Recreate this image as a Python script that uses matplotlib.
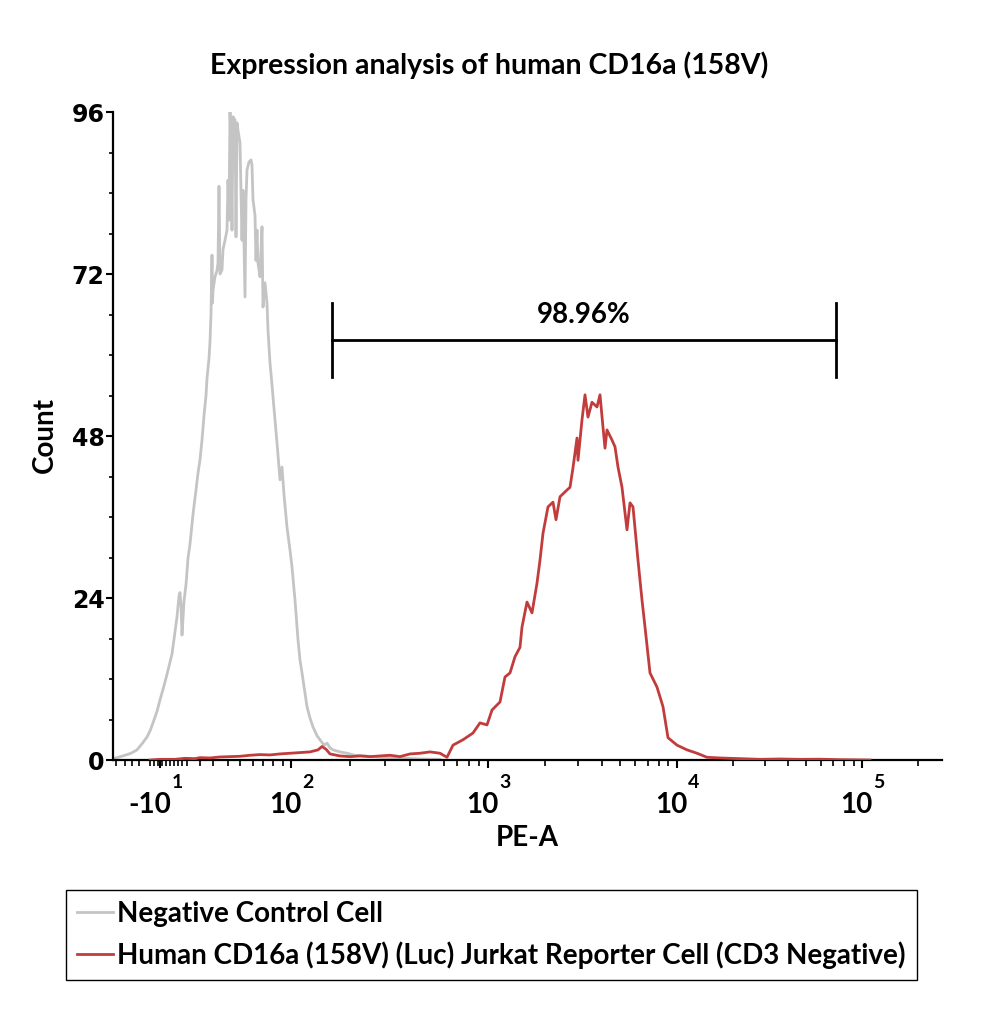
import matplotlib.pyplot as plt
import numpy as np

plt.rcParams["font.family"] = ["Lato", "DejaVu Sans"]
plt.rcParams["font.weight"] = "bold"

# PE-A given in display channels (0 = left edge of the plot), counts per bin
neg_x = [0, 5, 12, 18, 24, 29, 34, 37, 40, 44, 47, 51, 54, 57, 59, 62, 64, 66, 67, 68,
         69, 70, 71, 73, 75, 77, 80, 83, 85, 87, 89, 91, 93, 94, 96, 97, 98, 99, 99.5, 100,
         102, 104, 105, 106, 107, 109, 110, 112, 114, 115, 116, 117, 118, 119, 120, 122, 123, 124, 125, 127,
         129, 130, 132, 133, 134, 136, 138, 139, 140, 142, 143, 144, 145, 147, 149, 150, 152, 154, 155, 157,
         159, 160, 162, 164, 167, 169, 171, 174, 177, 179, 182, 185, 187, 189, 192, 194, 197, 200, 204, 207,
         211, 214, 217, 220, 227, 234, 242, 252, 267, 287, 307, 327]
neg_count = [0.2, 0.4, 0.7, 1.0, 1.5, 2.4, 3.4, 4.3, 5.5, 7.2, 8.9, 11.0, 12.7, 14.5, 15.7, 19.0, 21.2, 24.3, 24.8, 23.0,
             18.5, 21.0, 23.5, 26.0, 29.9, 32.0, 36.4, 40.0, 42.5, 44.5, 47.4, 51.0, 54.0, 56.5, 59.5, 62.0, 66.0, 74.8, 67.7, 69.6,
             71.6, 72.5, 73.6, 85.0, 72.0, 72.6, 75.6, 77.0, 78.5, 85.9, 80.0, 96.3, 90.0, 78.5, 95.3, 94.8, 77.5, 94.4, 93.3, 91.4,
             77.0, 84.4, 68.6, 83.0, 87.4, 88.6, 88.9, 88.1, 83.0, 80.7, 74.0, 78.5, 73.6, 71.6, 79.0, 67.1, 70.7, 67.7, 63.7, 58.8,
             55.6, 53.8, 50.4, 47.0, 41.5, 43.4, 39.3, 34.5, 31.1, 28.6, 23.7, 17.8, 14.8, 12.9, 9.9, 7.9, 6.2, 4.9, 3.6, 3.0,
             2.2, 2.5, 1.8, 1.5, 1.2, 1.0, 0.7, 0.6, 0.4, 0.3, 0.15, 0.1]

cd16_x = [37, 47, 62, 72, 82, 87, 97, 107, 117, 127, 137, 147, 157, 167, 177, 187, 197, 205, 209, 213,
          217, 227, 237, 247, 257, 267, 277, 287, 297, 307, 317, 327, 334, 340, 350, 360, 367, 374, 379, 387,
          392, 397, 402, 407, 409, 414, 419, 424, 427, 430, 435, 440, 443, 447, 454, 457, 460, 464, 465, 469,
          472, 475, 479, 484, 487, 490, 492, 494, 499, 502, 505, 509, 514, 517, 520, 525, 529, 532, 537, 544,
          550, 555, 564, 574, 584, 594, 607, 627, 647, 667, 687, 707, 727, 757]
cd16_count = [0.0, 0.1, 0.1, 0.25, 0.2, 0.35, 0.3, 0.45, 0.5, 0.55, 0.7, 0.8, 0.75, 0.9, 1.0, 1.1, 1.2, 1.5, 2.0, 1.6,
              0.9, 0.6, 0.5, 0.6, 0.5, 0.6, 0.7, 0.5, 0.9, 1.0, 1.2, 1.0, 0.4, 2.2, 3.0, 4.0, 5.5, 5.2, 7.4, 8.6,
              12.3, 12.9, 15.3, 16.7, 19.7, 23.4, 21.8, 26.2, 29.6, 33.6, 37.5, 38.2, 35.6, 39.0, 40.0, 40.4, 43.3, 47.7, 44.4, 50.4,
              54.1, 50.8, 53.0, 52.3, 54.1, 49.3, 46.2, 48.9, 47.4, 46.4, 43.4, 40.4, 34.1, 38.1, 37.5, 29.6, 23.7, 19.7, 12.9, 10.8,
              7.9, 3.3, 2.2, 1.5, 1.0, 0.4, 0.3, 0.2, 0.1, 0.15, 0.1, 0.12, 0.05, 0.0]

series_names = ["Negative Control Cell",
                "Human CD16a (158V) (Luc) Jurkat Reporter Cell (CD3 Negative)"]
series_colors = ["#c4c4c4", "#c23c3c"]

# axis decades (display channel of -10^1, 10^2 ... 10^5)
decade_base = ["-10", "10", "10", "10", "10"]
decade_exp = ["1", "2", "3", "4", "5"]
decade_pos = [47, 178, 375, 564, 749]
low_minor = [3, 12, 19, 26, 37, 41, 45, 49, 53, 57, 61, 65, 69, 74, 87, 100, 115, 127, 140, 150, 160, 170]

gate_range = (219, 723)
gate_y = 62.2
gate_text = "98.96%"

y_max = 96
x_max = 829

fig = plt.figure(figsize=(10, 10.18), dpi=100)
ax = fig.add_axes([0.113, 1 - 760 / 1018, 0.829, (760 - 112) / 1018])

ax.plot(neg_x, neg_count, color=series_colors[0], lw=2.0, label=series_names[0], zorder=2)
ax.plot(cd16_x, cd16_count, color=series_colors[1], lw=2.0, label=series_names[1], zorder=3)

# gate marker
ax.plot(gate_range, [gate_y, gate_y], color="black", lw=2)
for gx in gate_range:
    ax.plot([gx, gx], [gate_y - 5.5, gate_y + 5.5], color="black", lw=2)
ax.text(sum(gate_range) / 2, gate_y + 3.7, gate_text, ha="center", va="center", fontsize=20, fontweight="bold")

ax.set_xlim(0, x_max)
ax.set_ylim(0, y_max)
for side in ["top", "right"]:
    ax.spines[side].set_visible(False)
for side in ["left", "bottom"]:
    ax.spines[side].set_linewidth(1.6)

ax.set_yticks([0, 24, 48, 72, 96])
ax.set_yticks(np.arange(0, 97, 6), minor=True)
ax.tick_params(axis="y", which="major", length=5, width=1.5, labelsize=17, pad=1)
ax.tick_params(axis="y", which="minor", length=3, width=1.2)
for lab in ax.get_yticklabels():
    lab.set_family("DejaVu Sans")
    lab.set_fontweight("bold")

# x ticks: log decades above 10^2, compressed region around zero below
minors = list(low_minor)
for d in range(1, len(decade_pos)):
    start = decade_pos[d]
    span = (decade_pos[d + 1] - start) if d + 1 < len(decade_pos) else (decade_pos[d] - decade_pos[d - 1])
    for m in range(2, 10):
        p = start + span * np.log10(m)
        if p < x_max:
            minors.append(p)
ax.set_xticks(decade_pos)
ax.set_xticklabels([])
ax.set_xticks(minors, minor=True)
ax.tick_params(axis="x", which="major", length=6, width=1.5)
ax.tick_params(axis="x", which="minor", length=4, width=1.2)

for pos, base, ex in zip(decade_pos, decade_base, decade_exp):
    shift = -10 if base.startswith("-") else -6
    ax.annotate(base, xy=(pos, 0), xycoords=("data", "axes fraction"),
                xytext=(shift * 0.72, -45 * 0.72), textcoords="offset points",
                ha="center", va="center", fontsize=20, fontweight="bold")
    ax.annotate(ex, xy=(pos, 0), xycoords=("data", "axes fraction"),
                xytext=(17 * 0.72, -23 * 0.72), textcoords="offset points",
                ha="center", va="center", fontsize=14, fontweight="bold")

fig.text(0.489, 1 - 65 / 1018, "Expression analysis of human CD16a (158V)",
         ha="center", va="center", fontsize=20.5, fontweight="bold")
fig.text(0.045, 1 - 435 / 1018, "Count", rotation=90, ha="center", va="center",
         fontsize=20, fontweight="bold")
fig.text(0.527, 1 - 838 / 1018, "PE-A", ha="center", va="center", fontsize=20, fontweight="bold")

leg = ax.legend(loc="upper left", bbox_to_anchor=(0.066, 1 - 890 / 1018),
                bbox_transform=fig.transFigure, borderaxespad=0, fancybox=False,
                edgecolor="black", framealpha=1, fontsize=20, handlelength=1.3,
                handletextpad=0.15, borderpad=0.4, labelspacing=0.5)
leg.get_frame().set_linewidth(1.0)
for line in leg.get_lines():
    line.set_linewidth(2)

fig.savefig("out.png", dpi=100)
